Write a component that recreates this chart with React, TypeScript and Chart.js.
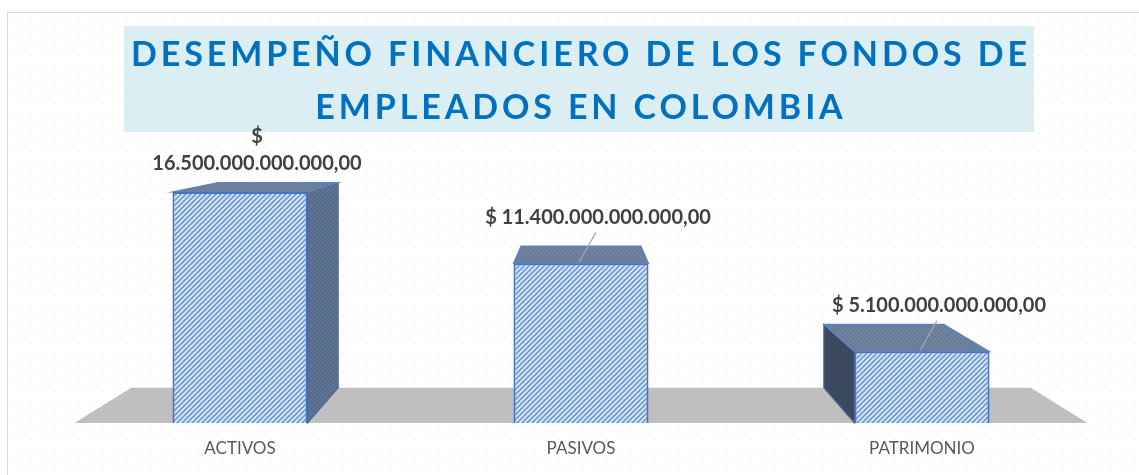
import React, { useEffect, useRef } from 'react';
import { Chart, registerables } from 'chart.js';

Chart.register(...registerables);

const categories = ['ACTIVOS', 'PASIVOS', 'PATRIMONIO'];
const values = [16500000000000, 11400000000000, 5100000000000];
const titleLines = ['DESEMPEÑO FINANCIERO DE LOS FONDOS DE', 'EMPLEADOS EN COLOMBIA'];
const yMin = 0;
const yMax = 20000000000000;

function formatMoney(v: number): string {
  const s = Math.round(v).toString();
  let out = '';
  for (let i = 0; i < s.length; i++) {
    if (i > 0 && (s.length - i) % 3 === 0) out += '.';
    out += s[i];
  }
  return out + ',00';
}

function makeHatch(bg: string, fg: string, size: number, lw: number): CanvasPattern | string {
  const c = document.createElement('canvas');
  c.width = size;
  c.height = size;
  const g = c.getContext('2d');
  if (!g) return bg;
  g.fillStyle = bg;
  g.fillRect(0, 0, size, size);
  g.strokeStyle = fg;
  g.lineWidth = lw;
  g.beginPath();
  g.moveTo(-1, size + 1);
  g.lineTo(size + 1, -1);
  g.moveTo(-2, 2);
  g.lineTo(2, -2);
  g.moveTo(size - 2, size + 2);
  g.lineTo(size + 2, size - 2);
  g.stroke();
  const p = g.createPattern(c, 'repeat');
  return p || bg;
}

const DEPTH = 0.112;

function vanish(chart: any) {
  const a = chart.chartArea;
  return { vx: (a.left + a.right) / 2, vy: a.top - 35 };
}

function proj(chart: any, x: number, y: number) {
  const { vx, vy } = vanish(chart);
  return [x + DEPTH * (vx - x), y + DEPTH * (vy - y)];
}

function poly(ctx: CanvasRenderingContext2D, pts: number[][], fill: any, stroke?: string, lw = 1) {
  ctx.beginPath();
  ctx.moveTo(pts[0][0], pts[0][1]);
  for (let i = 1; i < pts.length; i++) ctx.lineTo(pts[i][0], pts[i][1]);
  ctx.closePath();
  ctx.fillStyle = fill;
  ctx.fill();
  if (stroke) {
    ctx.strokeStyle = stroke;
    ctx.lineWidth = lw;
    ctx.stroke();
  }
}

function makePlugin(pats: any) {
  return {
    id: 'deco3d',
    beforeDraw(chart: any) {
      const { ctx, width, height } = chart;
      ctx.save();
      ctx.fillStyle = '#ffffff';
      ctx.fillRect(0, 0, width, height);
      // dotted background pattern
      ctx.fillStyle = 'rgba(200,190,180,0.45)';
      let row = 0;
      for (let y = 17; y < height; y += 9.6, row++) {
        for (let x = 12 + (row % 2) * 4.8; x < width; x += 9.6) {
          ctx.fillRect(Math.round(x), Math.round(y), 1, 1);
        }
      }
      // outer border
      ctx.strokeStyle = '#D9D9D9';
      ctx.lineWidth = 1;
      ctx.strokeRect(7.5, 12.5, width, height);
      // title box
      const bx = 124, by = 26, bw = 910, bh = 106;
      ctx.fillStyle = '#DAEEF3';
      ctx.fillRect(bx, by, bw, bh);
      ctx.fillStyle = '#0070C0';
      ctx.font = 'bold 34px Lato, "Open Sans", sans-serif';
      ctx.textBaseline = 'alphabetic';
      ctx.textAlign = 'left';
      (ctx as any).letterSpacing = '0px';
      const w0 = ctx.measureText(titleLines[0]).width;
      const target = bw - 14;
      const sp = (target - w0) / (titleLines[0].length - 1);
      const cx = bx + bw / 2;
      const baselines = [66, 119];
      titleLines.forEach((line, i) => {
        (ctx as any).letterSpacing = '0px';
        const w = ctx.measureText(line).width;
        const total = w + sp * (line.length - 1);
        (ctx as any).letterSpacing = sp + 'px';
        ctx.fillText(line, cx - total / 2, baselines[i]);
      });
      (ctx as any).letterSpacing = '0px';
      ctx.restore();
    },
    beforeDatasetsDraw(chart: any) {
      const { ctx, chartArea } = chart;
      const base = chart.scales.y.getPixelForValue(yMin);
      ctx.save();
      // floor
      const bl = [chartArea.left + 5, base];
      const br = [chartArea.right - 5, base];
      const tr = proj(chart, br[0], br[1]);
      const tl = proj(chart, bl[0], bl[1]);
      poly(ctx, [bl, br, tr, tl], '#BFBFBF');
      // bar sides and tops
      const { vx } = vanish(chart);
      const meta = chart.getDatasetMeta(0);
      meta.data.forEach((el: any) => {
        const p = el.getProps(['x', 'y', 'base', 'width'], true);
        const l = p.x - p.width / 2;
        const r = p.x + p.width / 2;
        const t = p.y;
        const b = p.base;
        if (r < vx) {
          poly(ctx, [[r, t], proj(chart, r, t), proj(chart, r, b), [r, b]], pats.side, '#4A6A9C', 1.2);
        }
        if (l > vx) {
          poly(ctx, [[l, t], proj(chart, l, t), proj(chart, l, b), [l, b]], pats.sideDark, '#4A6A9C', 1.2);
        }
        poly(ctx, [[l, t], [r, t], proj(chart, r, t), proj(chart, l, t)], pats.top, '#5B84C4', 1.2);
      });
      ctx.restore();
    },
    afterDatasetsDraw(chart: any) {
      const { ctx } = chart;
      const meta = chart.getDatasetMeta(0);
      ctx.save();
      ctx.font = 'bold 20px Lato, "Open Sans", sans-serif';
      ctx.fillStyle = '#404040';
      ctx.textAlign = 'center';
      ctx.textBaseline = 'middle';
      meta.data.forEach((el: any, i: number) => {
        const p = el.getProps(['x', 'y', 'base', 'width'], true);
        const num = formatMoney(values[i]);
        const lx = p.x + 17;
        const ly = p.y - 46;
        if (ly < 150) {
          ctx.fillText('$', lx, p.y - 55);
          ctx.fillText(num, lx, p.y - 28);
        } else {
          ctx.fillText('$ ' + num, lx, ly);
          ctx.strokeStyle = '#A6A6A6';
          ctx.lineWidth = 1.2;
          ctx.beginPath();
          ctx.moveTo(lx - 2, ly + 15);
          ctx.lineTo(p.x - 2, p.y - 1);
          ctx.stroke();
        }
      });
      ctx.restore();
    },
  };
}

export default function App() {
  const ref = useRef<HTMLCanvasElement | null>(null);
  useEffect(() => {
    if (!ref.current) return;
    const pats = {
      front: makeHatch('#DDEBF7', '#6B97D2', 5, 1.7),
      side: makeHatch('#627694', '#53678A', 4, 1.2),
      sideDark: makeHatch('#3F4D65', '#36435A', 4, 1.2),
      top: makeHatch('#7284A0', '#647897', 4, 1.2),
    };
    const chart = new Chart(ref.current, {
      type: 'bar',
      data: {
        labels: categories,
        datasets: [
          {
            data: values,
            backgroundColor: pats.front as any,
            borderColor: '#4472C4',
            borderWidth: 2,
            categoryPercentage: 1,
            barPercentage: 0.396,
          },
        ],
      },
      options: {
        animation: false,
        responsive: true,
        maintainAspectRatio: false,
        layout: { padding: { left: 69.5, right: 46.5, top: 143, bottom: 0 } },
        plugins: {
          legend: { display: false },
          title: { display: false },
          tooltip: { enabled: false },
        },
        scales: {
          x: {
            grid: { display: false, drawTicks: false },
            border: { display: false },
            ticks: {
              color: '#595959',
              font: { family: 'Lato, "Open Sans", sans-serif', size: 17 },
              padding: 15,
            },
            afterFit: (s: any) => {
              s.height = 52;
            },
          },
          y: {
            display: false,
            min: yMin,
            max: yMax,
          },
        },
      },
      plugins: [makePlugin(pats)],
    });
    return () => chart.destroy();
  }, []);
  return (
    <div style={{ position: 'fixed', left: 0, top: 0, width: 1139, height: 475 }}>
      <canvas ref={ref} />
    </div>
  );
}
